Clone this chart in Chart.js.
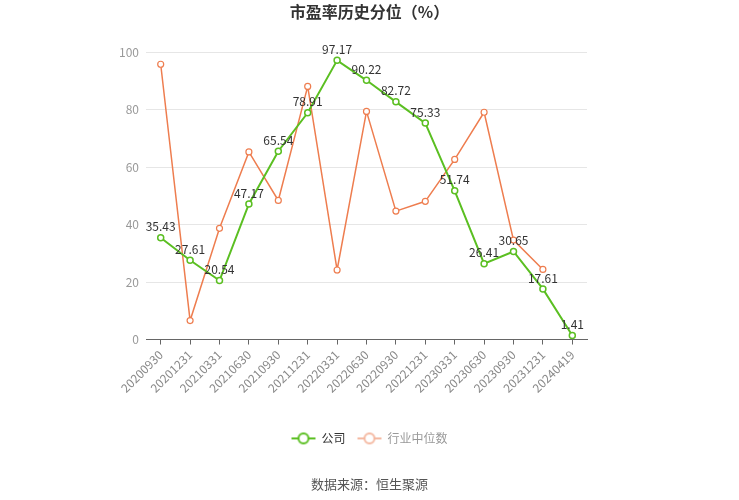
<!DOCTYPE html>
<html>
<head>
<meta charset="utf-8">
<script src="https://cdn.jsdelivr.net/npm/chart.js@4"></script>
<style>
  html, body { margin: 0; padding: 0; background: #fff; }
  #wrap { width: 739px; height: 500px; }
</style>
</head>
<body>
<div id="wrap"><canvas id="chart1"></canvas></div>
<script>
// 报告期
var dates = ['20200930', '20201231', '20210331', '20210630', '20210930', '20211231', '20220331',
  '20220630', '20220930', '20221231', '20230331', '20230630', '20230930', '20231231', '20240419']
// 公司 市盈率历史分位
var company = [35.43, 27.61, 20.54, 47.17, 65.54, 78.91, 97.17, 90.22, 82.72, 75.33, 51.74, 26.41, 30.65, 17.61, 1.41]
// 行业中位数
var industry = [95.8, 6.6, 38.7, 65.3, 48.4, 88.1, 24.2, 79.4, 44.7, 48.1, 62.7, 79.1, 34.6, 24.4, null]
var yTicks = [0, 20, 40, 60, 80, 100]

var green = '#5bbf22'
var orange = '#ee7d4f'
var fontFamily = '"Noto Sans CJK SC", "Noto Sans", sans-serif'

// legend icon: short line with hollow circle
function legendIcon(color) {
  var c = document.createElement('canvas')
  c.width = 26
  c.height = 14
  var ctx = c.getContext('2d')
  ctx.strokeStyle = color
  ctx.lineWidth = 2
  ctx.beginPath()
  ctx.moveTo(1, 7)
  ctx.lineTo(25, 7)
  ctx.stroke()
  ctx.beginPath()
  ctx.arc(13, 7, 5, 0, Math.PI * 2)
  ctx.fillStyle = '#fff'
  ctx.fill()
  ctx.stroke()
  return c
}

// value labels above the company points
var valueLabels = {
  id: 'valueLabels',
  afterDatasetsDraw: function (chart) {
    var ctx = chart.ctx
    var meta = chart.getDatasetMeta(0)
    ctx.save()
    ctx.font = '12px ' + fontFamily
    ctx.fillStyle = '#333'
    ctx.textAlign = 'center'
    ctx.textBaseline = 'bottom'
    meta.data.forEach(function (pt, i) {
      ctx.fillText(company[i].toFixed(2), pt.x, pt.y - 5)
    })
    ctx.restore()
  }
}

var chartCanvas = document.getElementById('chart1').getContext('2d')

new Chart(chartCanvas, {
  type: 'line',
  data: {
    labels: dates,
    datasets: [
      {
        label: '公司',
        data: company,
        borderColor: green,
        backgroundColor: '#fff',
        borderWidth: 2,
        pointRadius: 3,
        pointBorderWidth: 1.5,
        pointBorderColor: green,
        pointBackgroundColor: '#fff',
        tension: 0
      },
      {
        label: '行业中位数',
        data: industry,
        borderColor: orange,
        backgroundColor: '#fff',
        borderWidth: 1.5,
        pointRadius: 3,
        pointBorderWidth: 1.2,
        pointBorderColor: orange,
        pointBackgroundColor: '#fff',
        tension: 0
      }
    ]
  },
  options: {
    responsive: true,
    maintainAspectRatio: false,
    animation: false,
    layout: { padding: { left: 0, right: 0, top: 0, bottom: 6 } },
    plugins: {
      title: {
        display: true,
        text: '市盈率历史分位（%）',
        color: '#333',
        font: { family: fontFamily, size: 16, weight: 'bold' },
        padding: { top: 2, bottom: 31 }
      },
      subtitle: {
        display: true,
        position: 'bottom',
        text: '数据来源：恒生聚源',
        color: '#555',
        font: { family: fontFamily, size: 13 },
        padding: { top: 22, bottom: 2 }
      },
      legend: {
        position: 'bottom',
        labels: {
          usePointStyle: true,
          pointStyleWidth: 24,
          boxHeight: 14,
          padding: 12,
          font: { family: fontFamily, size: 12 },
          generateLabels: function (chart) {
            return chart.data.datasets.map(function (ds, i) {
              return {
                text: ds.label,
                datasetIndex: i,
                pointStyle: legendIcon(i === 0 ? green : '#f4b9a2'),
                fontColor: i === 0 ? '#333' : '#999',
                hidden: false
              }
            })
          }
        }
      },
      tooltip: { enabled: false }
    },
    scales: {
      x: {
        offset: true,
        grid: { drawOnChartArea: false, drawTicks: true, tickLength: 5, color: '#666' },
        border: { color: '#666' },
        ticks: {
          color: '#888',
          font: { family: fontFamily, size: 12 },
          minRotation: 45,
          maxRotation: 45,
          autoSkip: false
        },
        afterFit: function (axis) { axis.height += 22 }
      },
      y: {
        min: 0,
        max: 100,
        afterBuildTicks: function (axis) {
          axis.ticks = yTicks.map(function (v) { return { value: v } })
        },
        grid: { color: '#e6e6e6', drawTicks: false },
        border: { display: false },
        ticks: {
          color: '#999',
          padding: 7,
          font: { family: fontFamily, size: 12 }
        },
        afterFit: function (axis) { axis.width = 146 }
      },
      // empty axis on the right, only keeps space
      y2: {
        position: 'right',
        min: 0,
        max: 100,
        grid: { display: false },
        border: { display: false },
        ticks: { display: false },
        afterFit: function (axis) { axis.width = 152 }
      }
    }
  },
  plugins: [valueLabels]
})
</script>
</body>
</html>
